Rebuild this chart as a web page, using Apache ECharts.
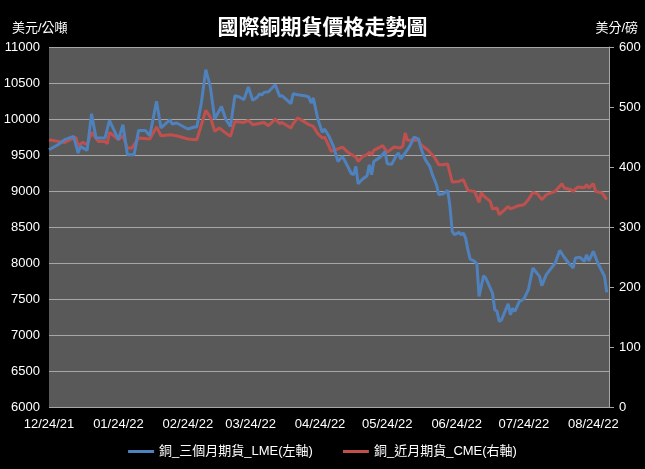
<!DOCTYPE html>
<html>
<head>
<meta charset="utf-8">
<script src="https://cdn.jsdelivr.net/npm/echarts@6/dist/echarts.min.js"></script>
<style>
html,body{margin:0;padding:0;background:#000;}
#main{width:645px;height:469px;}
</style>
</head>
<body>
<div id="main"></div>
<script>
// 銅_三個月期貨_LME (美元/公噸, 左軸)
var lmeDates = ['2021-12-24','2021-12-28','2021-12-31','2022-01-04','2022-01-06','2022-01-07','2022-01-10','2022-01-12','2022-01-14','2022-01-18',
	'2022-01-20','2022-01-24','2022-01-26','2022-01-28','2022-01-31','2022-02-02','2022-02-05','2022-02-07','2022-02-10','2022-02-12',
	'2022-02-16','2022-02-17','2022-02-19','2022-02-24','2022-02-27','2022-02-28','2022-03-02','2022-03-04','2022-03-06','2022-03-07',
	'2022-03-08','2022-03-11','2022-03-13','2022-03-15','2022-03-17','2022-03-19','2022-03-21','2022-03-23','2022-03-25','2022-03-27',
	'2022-03-28','2022-03-29','2022-03-30','2022-04-01','2022-04-04','2022-04-06','2022-04-07','2022-04-11','2022-04-12','2022-04-14',
	'2022-04-17','2022-04-19','2022-04-20','2022-04-21','2022-04-23','2022-04-25','2022-04-26','2022-04-28','2022-04-30','2022-05-02',
	'2022-05-04','2022-05-06','2022-05-08','2022-05-09','2022-05-10','2022-05-11','2022-05-13','2022-05-15','2022-05-16','2022-05-17',
	'2022-05-18','2022-05-21','2022-05-23','2022-05-24','2022-05-26','2022-05-28','2022-05-29','2022-05-30','2022-06-01','2022-06-03',
	'2022-06-05','2022-06-07','2022-06-08','2022-06-10','2022-06-12','2022-06-13','2022-06-15','2022-06-16','2022-06-18','2022-06-20',
	'2022-06-21','2022-06-22','2022-06-23','2022-06-25','2022-06-26','2022-06-27','2022-06-28','2022-06-29','2022-06-30','2022-07-02',
	'2022-07-03','2022-07-04','2022-07-06','2022-07-07','2022-07-10','2022-07-11','2022-07-12','2022-07-13','2022-07-14','2022-07-17',
	'2022-07-18','2022-07-19','2022-07-20','2022-07-22','2022-07-24','2022-07-26','2022-07-28','2022-07-31','2022-08-01','2022-08-03',
	'2022-08-07','2022-08-09','2022-08-11','2022-08-13','2022-08-15','2022-08-16','2022-08-18','2022-08-20','2022-08-21','2022-08-22',
	'2022-08-24','2022-08-26','2022-08-29','2022-08-30'];
var lmeValues = [9573,9643,9713,9758,9528,9620,9564,10074,9736,9736,
	9980,9713,9921,9504,9504,9842,9842,9768,10245,9875,
	9990,9930,9944,9861,9889,9889,10222,10685,10453,10222,
	10000,10175,9990,9897,10324,10305,10268,10444,10258,10305,
	10351,10333,10370,10379,10476,10314,10324,10213,10351,10338,
	10324,10305,10222,10292,10000,9814,9861,9760,9620,9411,
	9481,9365,9240,9226,9342,9101,9167,9212,9365,9226,
	9411,9472,9550,9379,9370,9490,9528,9444,9528,9620,
	9750,9722,9597,9435,9342,9240,9087,8948,8962,9008,
	8786,8439,8393,8425,8393,8416,8345,8185,8055,8022,
	7990,7536,7823,7791,7583,7351,7330,7189,7210,7434,
	7281,7370,7328,7467,7500,7629,7930,7814,7685,7838,
	8000,8175,8080,8000,7930,8069,8080,8022,8115,8030,
	8161,8000,7814,7592];

// 銅_近月期貨_CME (美分/磅, 右軸)
var cmeDates = ['2021-12-24','2021-12-28','2021-12-31','2022-01-03','2022-01-05','2022-01-06','2022-01-08','2022-01-10','2022-01-12','2022-01-15',
	'2022-01-18','2022-01-19','2022-01-20','2022-01-24','2022-01-26','2022-01-28','2022-01-30','2022-02-02','2022-02-07','2022-02-10',
	'2022-02-12','2022-02-16','2022-02-19','2022-02-24','2022-02-28','2022-03-04','2022-03-06','2022-03-08','2022-03-10','2022-03-12',
	'2022-03-15','2022-03-17','2022-03-21','2022-03-23','2022-03-25','2022-03-30','2022-04-01','2022-04-04','2022-04-06','2022-04-07',
	'2022-04-11','2022-04-12','2022-04-14','2022-04-16','2022-04-19','2022-04-21','2022-04-23','2022-04-25','2022-04-26','2022-04-27',
	'2022-04-29','2022-05-01','2022-05-04','2022-05-06','2022-05-08','2022-05-10','2022-05-11','2022-05-13','2022-05-15','2022-05-16',
	'2022-05-17','2022-05-18','2022-05-22','2022-05-24','2022-05-27','2022-05-30','2022-05-31','2022-06-01','2022-06-02','2022-06-04',
	'2022-06-07','2022-06-08','2022-06-11','2022-06-13','2022-06-14','2022-06-16','2022-06-18','2022-06-19','2022-06-20','2022-06-22',
	'2022-06-25','2022-06-27','2022-06-29','2022-07-02','2022-07-04','2022-07-05','2022-07-06','2022-07-09','2022-07-10','2022-07-12',
	'2022-07-13','2022-07-15','2022-07-17','2022-07-18','2022-07-20','2022-07-21','2022-07-24','2022-07-26','2022-07-28','2022-07-30',
	'2022-08-01','2022-08-03','2022-08-07','2022-08-10','2022-08-11','2022-08-14','2022-08-15','2022-08-17','2022-08-20','2022-08-21',
	'2022-08-22','2022-08-24','2022-08-25','2022-08-28','2022-08-30'];
var cmeValues = [445.5,442.7,441,446.6,449.4,435.5,441,437,457.7,442.7,
	442.7,438.8,457.7,445.5,452,431.7,431.7,448.3,446.6,466.6,
	452,453.8,452,446.6,445.5,494.3,483.3,459.3,465,459.3,
	451,476,474.3,477.7,470.5,474.3,468.8,480,472.2,474.3,
	465,472.2,481.7,477.7,470.5,467.7,455.5,448.3,450,442.7,
	426,428.8,433.3,426,420.5,416.7,409.3,417.7,420.5,424.3,
	420.5,427.7,435.5,424.3,433.3,431.7,435.5,456.7,444.4,444.4,
	444.4,437.2,428.8,420.5,416.7,403.8,403.8,404.6,405,375,
	376,378.8,361,359.4,341,357.7,352,342.7,330,331.7,
	320.5,327.2,334.3,330,333.3,335,337.2,345.5,357.7,355.5,
	345.5,353.8,359.4,372.2,365,362.2,359.4,366.6,365.5,370.5,
	365,372.2,359.4,356.6,345.5];

// x 軸刻度 (每月24日)
var tickDates = ['2021-12-24','2022-01-24','2022-02-24','2022-03-24','2022-04-24','2022-05-24','2022-06-24','2022-07-24','2022-08-24'];

function toTime(s){
	var p = s.split('-');
	return Date.UTC(+p[0], +p[1] - 1, +p[2]);
}
function pad(n){ return (n < 10 ? '0' : '') + n; }

var lmeData = lmeDates.map(function (d, i){ return [toTime(d), lmeValues[i]]; });
var cmeData = cmeDates.map(function (d, i){ return [toTime(d), cmeValues[i]]; });

var myChart = echarts.init(document.getElementById('main'));
var font = '"Liberation Sans","Noto Sans CJK TC",sans-serif';
var cjk = '"Noto Sans CJK TC",sans-serif';

var option = {
	backgroundColor: '#000',
	animation: false,
	textStyle: { fontFamily: font },
	title: [
		{ text: '國際銅期貨價格走勢圖', left: 'center', top: 11,
		  textStyle: { color: '#fff', fontSize: 21, fontWeight: 'bold', fontFamily: cjk } },
		{ text: '美元/公噸', left: 7, top: 17,
		  textStyle: { color: '#fff', fontSize: 13, fontWeight: 'normal', fontFamily: font } },
		{ text: '美分/磅', right: 2, top: 17,
		  textStyle: { color: '#fff', fontSize: 13, fontWeight: 'normal', fontFamily: font } }
	],
	grid: {
		left: 49, right: 36, top: 47, bottom: 62,
		show: true, backgroundColor: '#595959', borderWidth: 0
	},
	legend: {
		bottom: 6, left: 'center', itemGap: 30,
		icon: 'rect', itemWidth: 26, itemHeight: 3,
		textStyle: { color: '#fff', fontSize: 13, fontFamily: font },
		data: ['銅_三個月期貨_LME(左軸)', '銅_近月期貨_CME(右軸)']
	},
	xAxis: {
		type: 'value',
		min: toTime('2021-12-24'),
		max: toTime('2022-08-31'),
		axisLine: { show: false },
		axisTick: { show: false },
		splitLine: { show: false },
		axisLabel: {
			color: '#fff', fontSize: 13, margin: 11,
			customValues: tickDates.map(toTime),
			formatter: function (v){
				var d = new Date(v);
				return pad(d.getUTCMonth() + 1) + '/' + pad(d.getUTCDate()) + '/' + pad(d.getUTCFullYear() % 100);
			}
		}
	},
	yAxis: [
		{
			type: 'value', min: 6000, max: 11000, interval: 500,
			axisLine: { show: false },
			axisTick: { show: false },
			axisLabel: { color: '#fff', fontSize: 13, margin: 9, formatter: function (v){ return String(v); } },
			splitLine: { lineStyle: { color: '#a6a6a6', width: 1 } }
		},
		{
			type: 'value', min: 0, max: 600, interval: 100, position: 'right',
			axisLine: { show: true, lineStyle: { color: '#a6a6a6' } },
			axisTick: { show: true, length: 5, lineStyle: { color: '#a6a6a6' } },
			axisLabel: { color: '#fff', fontSize: 13, margin: 10 },
			splitLine: { show: false }
		}
	],
	series: [
		{
			name: '銅_三個月期貨_LME(左軸)',
			type: 'line', yAxisIndex: 0,
			showSymbol: false, symbol: 'none',
			lineStyle: { color: '#4F81BD', width: 3 },
			itemStyle: { color: '#4F81BD' },
			data: lmeData,
			z: 3
		},
		{
			name: '銅_近月期貨_CME(右軸)',
			type: 'line', yAxisIndex: 1,
			showSymbol: false, symbol: 'none',
			lineStyle: { color: '#C0504D', width: 3 },
			itemStyle: { color: '#C0504D' },
			data: cmeData,
			z: 2
		}
	]
};
myChart.setOption(option);
</script>
</body>
</html>
